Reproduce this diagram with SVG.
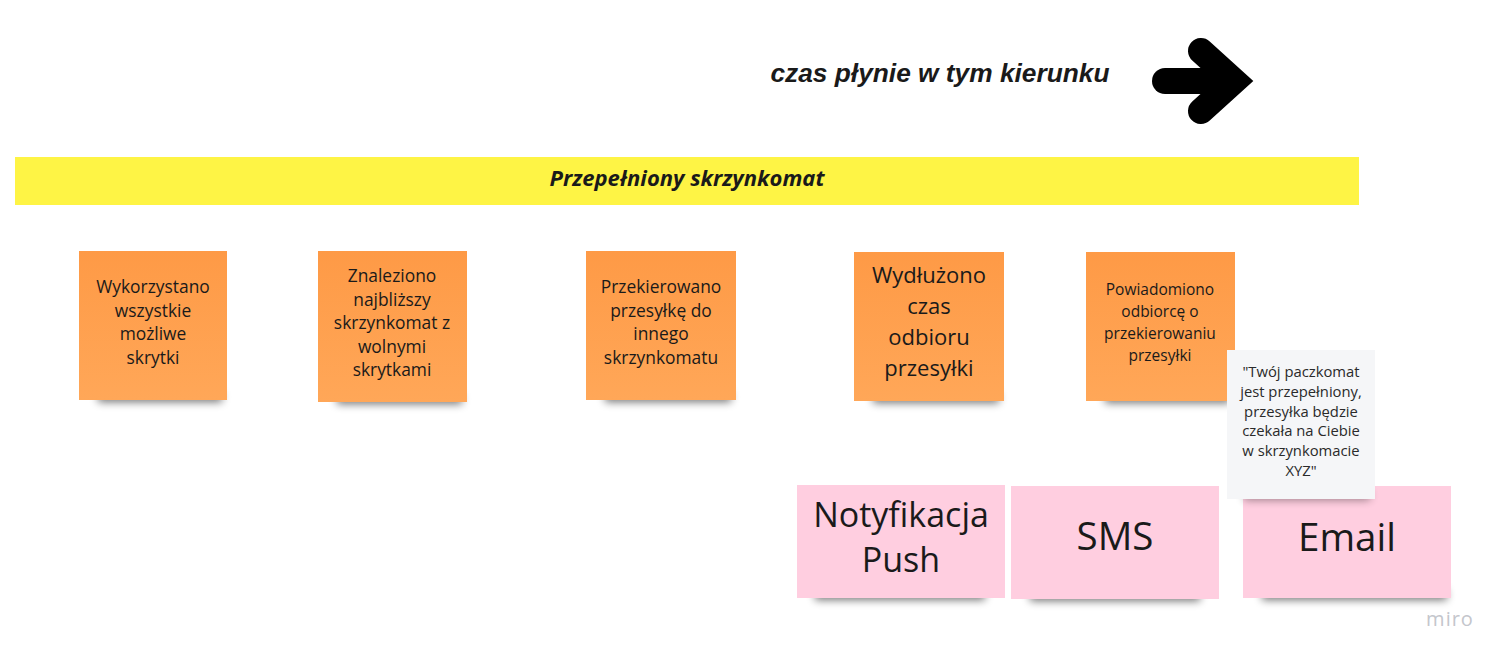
<svg xmlns="http://www.w3.org/2000/svg" width="1509" height="662" viewBox="0 0 1509 662">
<style>
  .t { font-family: "Open Sans", "Noto Sans", sans-serif; fill: #1a1a1a; text-anchor: middle; }
  .s17 { font-size: 17.4px; }
  .s22 { font-size: 22px; }
  .s15 { font-size: 15.5px; }
  .s13 { font-size: 14.8px; }
  .s34 { font-size: 34px; }
  .s38 { font-size: 38.5px; }
  .orange { fill: url(#og); }
  .pink { fill: #ffcee0; }
  .grey { fill: #f5f6f8; }
  .shadow { fill: #000; opacity: 0.55; filter: url(#blur); }
</style>
<defs>
  <linearGradient id="og" x1="0" y1="0" x2="0" y2="1">
    <stop offset="0" stop-color="#fe9a46"/>
    <stop offset="1" stop-color="#ffa758"/>
  </linearGradient>
  <filter id="blur" x="-20%" y="-100%" width="140%" height="300%">
    <feGaussianBlur stdDeviation="4"/>
  </filter>
</defs>
<rect width="1509" height="662" fill="#ffffff"/>

<g id="title">
  <text x="940" y="82" font-family="Liberation Sans, Arial, sans-serif" font-size="26.3" font-weight="bold" font-style="italic" fill="#1a1a1a" text-anchor="middle">czas płynie w tym kierunku</text>
</g>

<g id="arrow" stroke="#000" stroke-width="26" fill="none">
  <path d="M1165,81 L1228,81" stroke-linecap="round"/>
  <path d="M1201,51 L1234,81 L1201,111" stroke-linecap="round" stroke-linejoin="miter"/>
</g>

<g id="banner">
  <rect x="15" y="157" width="1344" height="48" fill="#fef445"/>
  <text x="687" y="186" font-family="Open Sans, sans-serif" font-size="22" font-weight="bold" font-style="italic" fill="#1a1a1a" text-anchor="middle">Przepełniony skrzynkomat</text>
</g>

<g id="connectors"></g>

<g id="n1">
  <rect class="shadow" x="98" y="392" width="124" height="10"/>
  <rect class="orange" x="79" y="251" width="148" height="149"/>
  <text class="t s17"><tspan x="153" y="293">Wykorzystano</tspan><tspan x="153" y="316.5">wszystkie</tspan><tspan x="153" y="340">możliwe</tspan><tspan x="153" y="363.5">skrytki</tspan></text>
</g>

<g id="n2">
  <rect class="shadow" x="337" y="394" width="125" height="10"/>
  <rect class="orange" x="318" y="251" width="149" height="151"/>
  <text class="t s17"><tspan x="392" y="282">Znaleziono</tspan><tspan x="392" y="305.5">najbliższy</tspan><tspan x="392" y="329">skrzynkomat z</tspan><tspan x="392" y="352.5">wolnymi</tspan><tspan x="392" y="376">skrytkami</tspan></text>
</g>

<g id="n3">
  <rect class="shadow" x="605" y="392" width="126" height="10"/>
  <rect class="orange" x="586" y="251" width="150" height="149"/>
  <text class="t s17"><tspan x="661" y="293">Przekierowano</tspan><tspan x="661" y="316.5">przesyłkę do</tspan><tspan x="661" y="340">innego</tspan><tspan x="661" y="363.5">skrzynkomatu</tspan></text>
</g>

<g id="n4">
  <rect class="shadow" x="873" y="393" width="126" height="10"/>
  <rect class="orange" x="854" y="252" width="150" height="149"/>
  <text class="t s22"><tspan x="929" y="283">Wydłużono</tspan><tspan x="929" y="314">czas</tspan><tspan x="929" y="345">odbioru</tspan><tspan x="929" y="376">przesyłki</tspan></text>
</g>

<g id="n5">
  <rect class="shadow" x="1105" y="393" width="125" height="10"/>
  <rect class="orange" x="1086" y="252" width="149" height="149"/>
  <text class="t s15"><tspan x="1160" y="295">Powiadomiono</tspan><tspan x="1160" y="317">odbiorcę o</tspan><tspan x="1160" y="339">przekierowaniu</tspan><tspan x="1160" y="361">przesyłki</tspan></text>
</g>

<g id="p1">
  <rect class="shadow" x="815" y="590" width="170" height="10"/>
  <rect class="pink" x="797" y="485" width="208" height="113"/>
  <text class="t s34"><tspan x="901" y="527">Notyfikacja</tspan><tspan x="901" y="572">Push</tspan></text>
</g>

<g id="p2">
  <rect class="shadow" x="1030" y="591" width="170" height="10"/>
  <rect class="pink" x="1011" y="486" width="208" height="113"/>
  <text class="t s38" x="1115" y="550">SMS</text>
</g>

<g id="p3">
  <rect class="shadow" x="1262" y="590" width="185" height="10"/>
  <rect class="pink" x="1243" y="486" width="208" height="112"/>
  <text class="t s38" x="1347" y="551">Email</text>
</g>

<g id="note">
  <rect class="shadow" x="1244" y="491" width="126" height="9" style="opacity:0.4"/>
  <rect class="grey" x="1227" y="350" width="148" height="149"/>
  <text class="t s13" style="fill:#2a2a2a"><tspan x="1301" y="377">"Twój paczkomat</tspan><tspan x="1301" y="396.8">jest przepełniony,</tspan><tspan x="1301" y="416.6">przesyłka będzie</tspan><tspan x="1301" y="436.4">czekała na Ciebie</tspan><tspan x="1301" y="456.2">w skrzynkomacie</tspan><tspan x="1301" y="476">XYZ"</tspan></text>
</g>

<text x="1450" y="626" font-family="Open Sans, sans-serif" font-size="20" fill="#c4c6cc" text-anchor="middle" letter-spacing="1">miro</text>
</svg>
